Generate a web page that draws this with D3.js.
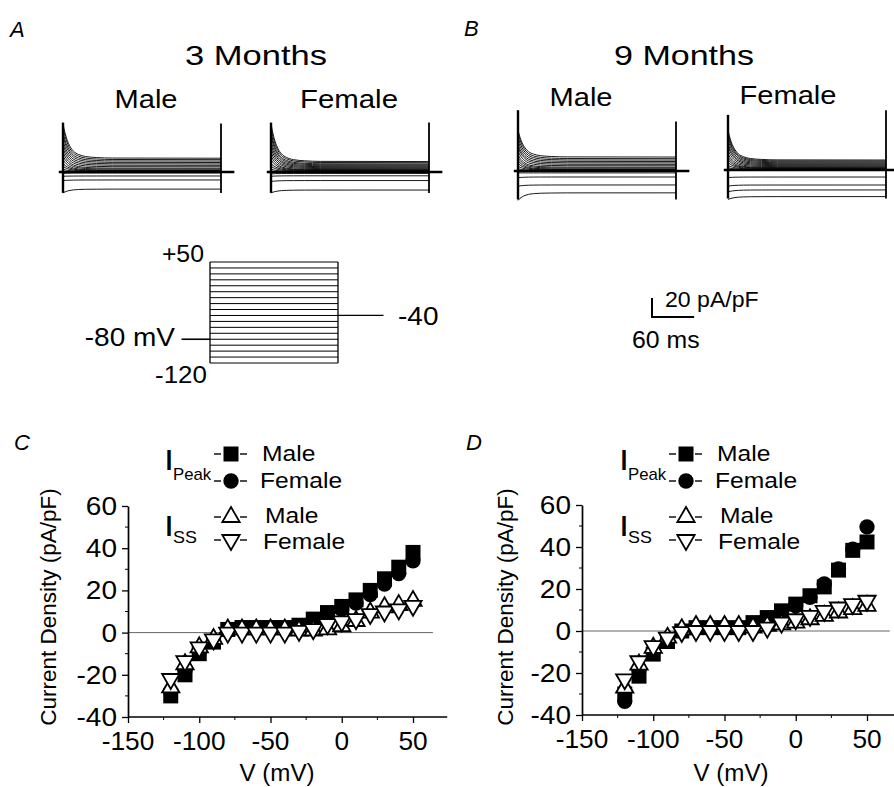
<!DOCTYPE html>
<html>
<head>
<meta charset="utf-8">
<script src="https://cdn.jsdelivr.net/npm/d3@7"></script>
<style>
  html, body { margin: 0; padding: 0; background: #fff; }
  svg { display: block; font-family: "Liberation Sans", Arial, Helvetica, sans-serif; }
</style>
</head>
<body>
<svg id="fig" width="894" height="787"></svg>
<script>
// ---------- Test potentials (mV) ----------
const voltages = [-120, -110, -100, -90, -80, -70, -60, -50, -40, -30, -20, -10, 0, 10, 20, 30, 40, 50];

// ---------- I–V data, 3 months (pA/pF) ----------
const peakMale3   = [-30, -20, -10, -4.5, 1.5, 2.4, 2.4, 2.4, 2.4, 3.5, 6.4, 9.5, 12.4, 15.5, 20, 25.5, 31, 38];
const peakFemale3 = [-28, -18, -9, -4, 1, 2, 2, 2, 2, 3, 5.5, 8.5, 11, 14, 18, 23, 28, 34];
const ssMale3     = [-26, -15, -7, -3, 1.5, 1.5, 1.5, 1.5, 1.5, 1, 1, 1.5, 3, 5.5, 9.5, 12, 13, 15];
const ssFemale3   = [-22, -13.5, -7, -3.2, 0, 0, 0, 0, 0, 0.8, 1.6, 4, 5.3, 6.4, 8.8, 10, 11, 12.7];

// ---------- I–V data, 9 months (pA/pF) ----------
const peakMale9   = [-30, -21.5, -11, -5, 0, 1.6, 1.6, 1.6, 1.6, 4, 6.4, 9.6, 12.8, 16.8, 21, 29, 38.4, 42.4];
const peakFemale9 = [-33.5, -18.5, -9.6, -4.5, 0, 1.2, 1.2, 1.2, 1.2, 3.5, 6, 8.8, 12, 16, 22.4, 29.6, 39, 49.6];
const ssMale9     = [-27, -16, -8, -3.2, 0.8, 2.4, 2.4, 2.4, 2.4, 1.6, 2.4, 3.2, 4, 5.6, 7.2, 8.8, 10.4, 12];
const ssFemale9   = [-23, -14.4, -7.2, -3.2, -0.5, 0, 0, 0, 0, 0, 1.6, 4, 5.6, 7.2, 9.6, 11.2, 12.8, 14.4];

// ---------- Representative current traces: level at pulse onset and at pulse end (pA/pF) ----------
const traceStartA_M = [-22, -9, -4.5, -1.5, 0, 3, 6, 9, 13, 17, 21, 25, 29, 33, 38, 42, 47, 51];
const traceEndA_M   = [-18, -8.4, -4.2, -1, 0, 0.5, 1, 1.5, 2, 3, 4, 5.5, 7, 8.5, 10, 11.5, 13, 14.5];
const traceStartA_F = [-22, -10, -4.5, -2, 0, 3, 6, 9, 13, 17, 21, 25, 29, 33, 38, 42, 47, 51];
const traceEndA_F   = [-19, -9, -4, -1.5, 0, 0.5, 1, 1.5, 2, 2.5, 3.5, 4.5, 5.5, 6.5, 7.5, 8.5, 9.8, 11];
const traceStartB_M = [-31, -16, -7, -2, 0, 2.5, 5, 8, 11, 14, 17, 21, 25, 28, 32, 36, 40, 43];
const traceEndB_M   = [-23, -14.7, -6.3, -2, 0, 0.5, 1, 1.5, 2, 3, 4, 5.5, 7, 8.5, 10, 11.5, 13, 14.7];
const traceStartB_F = [-31, -23, -17, -8, 0, 2.5, 5, 8, 11, 14, 17, 21, 25, 28, 32, 36, 39, 42];
const traceEndB_F   = [-28, -21, -15.8, -7.4, 0, 0.5, 1, 1.5, 2, 2.5, 3.5, 4.5, 5.5, 6.5, 7.5, 8.5, 9.5, 10.5];

// Capacitive artefacts at pulse on / off: [bottom, top] in pA/pF
const artOnA_M = [-22, 52],  artOffA_M = [-22, 51];
const artOnA_F = [-22, 52],  artOffA_F = [-22, 52];
const artOnB_M = [-30, 64],  artOffB_M = [-30, 52];
const artOnB_F = [-30, 58],  artOffB_F = [-30, 63];

// Shared inactivation time course (fraction of decaying component remaining vs ms)
const decayTime = [0, 3, 6, 10, 15, 22, 32, 48, 70, 225];
const decayFrac = [1, 0.72, 0.52, 0.34, 0.2, 0.11, 0.05, 0.02, 0.005, 0];

const pulseMs = 225;          // test pulse duration
const holdingMV = -80, tailMV = -40;

// ---------- Axis ticks ----------
const xTicks = [-150, -100, -50, 0, 50];
const xMinor = [-125, -75, -25, 25];
const yTicks = [-40, -20, 0, 20, 40, 60];
const yMinor = [-30, -10, 10, 30, 50];

const svg = d3.select("#fig");

// text helper; sx stretches glyphs horizontally
function txt(g, s, x, y, o = {}) {
  const sx = o.sx === undefined ? 1.1 : o.sx;
  const t = g.append("text")
    .attr("transform", `translate(${x},${y})` + (o.rot ? ` rotate(${o.rot})` : ` scale(${sx},1)`))
    .attr("font-size", o.size || 24)
    .attr("text-anchor", o.anchor || "start")
    .attr("fill", "#000")
    .text(s);
  if (o.italic) t.attr("font-style", "italic");
  if (o.len) t.attr("textLength", o.len / sx).attr("lengthAdjust", "spacingAndGlyphs");
  return t;
}

// ---------- Panel letters & titles ----------
txt(svg, "A", 10, 37, {size: 22, italic: true, sx: 1});
txt(svg, "B", 464, 36, {size: 22, italic: true, sx: 1});
txt(svg, "C", 14, 450, {size: 22, italic: true, sx: 1});
txt(svg, "D", 466, 450, {size: 22, italic: true, sx: 1});

txt(svg, "3 Months", 256, 65, {size: 28, anchor: "middle", sx: 1, len: 142});
txt(svg, "9 Months", 684, 65, {size: 28, anchor: "middle", sx: 1, len: 140});
txt(svg, "Male", 146, 108, {size: 25, anchor: "middle", sx: 1, len: 63});
txt(svg, "Female", 349, 108, {size: 25, anchor: "middle", sx: 1, len: 98});
txt(svg, "Male", 581, 106, {size: 25, anchor: "middle", sx: 1, len: 63});
txt(svg, "Female", 788, 104, {size: 25, anchor: "middle", sx: 1, len: 97});

// ---------- Current traces ----------
const cells = [
  {x0: 63,  base: 172, start: traceStartA_M, end: traceEndA_M, on: artOnA_M, off: artOffA_M},
  {x0: 271, base: 172, start: traceStartA_F, end: traceEndA_F, on: artOnA_F, off: artOffA_F},
  {x0: 518, base: 171, start: traceStartB_M, end: traceEndB_M, on: artOnB_M, off: artOffB_M},
  {x0: 728, base: 170, start: traceStartB_F, end: traceEndB_F, on: artOnB_F, off: artOffB_F}
];
const traceWidth = 158;       // px for one pulse
const pxPer20 = 19;           // px for 20 pA/pF

let refScales = null;
cells.forEach((c, ci) => {
  const t = d3.scaleLinear().domain([0, pulseMs]).range([c.x0, c.x0 + traceWidth]);
  const y = d3.scaleLinear().domain([0, 20]).range([c.base, c.base - pxPer20]);
  if (ci === 0) refScales = {t, y};
  const g = svg.append("g");
  const line = d3.line().x(d => t(d[0])).y(d => y(d[1])).curve(d3.curveMonotoneX);

  voltages.forEach((v, i) => {
    const pk = c.start[i], ss = c.end[i];
    const pts = decayTime.map((tm, k) => [tm, ss + (pk - ss) * decayFrac[k]]);
    g.append("path").attr("d", line(pts))
      .attr("fill", "none").attr("stroke", "#000").attr("stroke-width", 0.9);
  });
  // holding level before and after the pulse
  g.append("line")
    .attr("x1", t(-6)).attr("x2", t(pulseMs + 19))
    .attr("y1", y(0)).attr("y2", y(0))
    .attr("stroke", "#000").attr("stroke-width", 2.6);
  // capacitive artefacts
  g.append("line").attr("x1", t(0)).attr("x2", t(0))
    .attr("y1", y(c.on[0])).attr("y2", y(c.on[1]))
    .attr("stroke", "#000").attr("stroke-width", 2.4);
  g.append("line").attr("x1", t(pulseMs)).attr("x2", t(pulseMs))
    .attr("y1", y(c.off[0])).attr("y2", y(c.off[1]))
    .attr("stroke", "#000").attr("stroke-width", 1.8);
});

// ---------- Scale bar ----------
{
  const {t, y} = refScales;
  const bx = 652, by = 317;
  const w = t(60) - t(0), h = y(0) - y(20);
  svg.append("path")
    .attr("d", `M${bx},${by - h}V${by}H${bx + w}`)
    .attr("fill", "none").attr("stroke", "#000").attr("stroke-width", 2);
  txt(svg, "20 pA/pF", 665, 307, {size: 22, sx: 1.05});
  txt(svg, "60 ms", 632, 348, {size: 23, sx: 1.08});
}

// ---------- Voltage protocol ----------
{
  const pt = d3.scaleLinear().domain([0, pulseMs]).range([210, 338]);
  const pv = d3.scaleLinear().domain([-120, 50]).range([363, 262]);
  const g = svg.append("g").attr("stroke", "#000").attr("fill", "none");
  voltages.forEach(v => {
    g.append("line").attr("x1", pt(0)).attr("x2", pt(pulseMs))
      .attr("y1", pv(v)).attr("y2", pv(v)).attr("stroke-width", 1);
  });
  g.append("line").attr("x1", pt(0)).attr("x2", pt(0))
    .attr("y1", pv(-120)).attr("y2", pv(50)).attr("stroke-width", 1.3);
  g.append("line").attr("x1", pt(pulseMs)).attr("x2", pt(pulseMs))
    .attr("y1", pv(-120)).attr("y2", pv(50)).attr("stroke-width", 1.3);
  g.append("line").attr("x1", pt(-50)).attr("x2", pt(0))
    .attr("y1", pv(holdingMV)).attr("y2", pv(holdingMV)).attr("stroke-width", 1.6);
  g.append("line").attr("x1", pt(pulseMs)).attr("x2", pt(pulseMs + 80))
    .attr("y1", pv(tailMV)).attr("y2", pv(tailMV)).attr("stroke-width", 1.2);

  txt(svg, "+50", 204, 262, {size: 23, anchor: "end", sx: 1.08});
  txt(svg, "-80 mV", 175, 346, {size: 25, anchor: "end", sx: 1.12});
  txt(svg, "-40", 398, 325, {size: 25, anchor: "start", sx: 1.12});
  txt(svg, "-120", 181, 383, {size: 24, anchor: "middle", sx: 1.08});
}

// ---------- Symbols ----------
const symSq  = d3.symbol(d3.symbolSquare, 225)();
const symCi  = d3.symbol(d3.symbolCircle, 185)();
const symTri = d3.symbol(d3.symbolTriangle, 130)();

function marker(g, kind, x, y) {
  const p = g.append("path").attr("transform", `translate(${x},${y})` + (kind === "down" ? " rotate(180)" : ""));
  if (kind === "sq") p.attr("d", symSq).attr("fill", "#000");
  else if (kind === "ci") p.attr("d", symCi).attr("fill", "#000");
  else p.attr("d", symTri).attr("fill", "#fff").attr("stroke", "#000").attr("stroke-width", 1.8);
  return p;
}

// ---------- I–V panels ----------
function ivPanel(cfg) {
  const x = d3.scaleLinear().domain([-150, 50]).range(cfg.xr);
  const y = d3.scaleLinear().domain([-40, 60]).range(cfg.yr);
  const g = svg.append("g");

  // zero-current reference
  g.append("line").attr("x1", x(-150)).attr("x2", x(cfg.zeroEnd))
    .attr("y1", y(0)).attr("y2", y(0)).attr("stroke", "#666").attr("stroke-width", 1);

  // axes (ticks only; labels drawn separately)
  const ax = g.append("g").attr("transform", `translate(0,${y(-40)})`)
    .call(d3.axisBottom(x).tickValues(xTicks).tickSize(6).tickFormat("").tickSizeOuter(0));
  ax.select(".domain").attr("d", `M${x(-150)},0H${x(cfg.xEnd)}`);
  xMinor.forEach(v => ax.append("line").attr("x1", x(v)).attr("x2", x(v)).attr("y1", 0).attr("y2", 3).attr("stroke", "#000"));
  const ay = g.append("g").attr("transform", `translate(${x(-150)},0)`)
    .call(d3.axisLeft(y).tickValues(yTicks).tickSize(6).tickFormat("").tickSizeOuter(0));
  yMinor.forEach(v => ay.append("line").attr("x1", 0).attr("x2", -3).attr("y1", y(v)).attr("y2", y(v)).attr("stroke", "#000"));
  g.selectAll(".domain").attr("stroke-width", 1.7);
  g.selectAll(".tick line").attr("stroke-width", 1.3);

  xTicks.forEach(v => txt(g, String(v), x(v), cfg.xLabY, {size: 25, anchor: "middle", sx: 1.05}));
  yTicks.forEach(v => txt(g, String(v), x(-150) - 11, y(v) + 9, {size: 25, anchor: "end", sx: 1.12}));

  txt(g, "V (mV)", cfg.xTitleX, 781, {size: 23, anchor: "middle", sx: 1.05});
  txt(g, "Current Density (pA/pF)", cfg.yTitleX, 607, {size: 22.5, anchor: "middle", rot: -90});

  // data markers
  const series = [
    {vals: cfg.pM, kind: "sq"},
    {vals: cfg.pF, kind: "ci"},
    {vals: cfg.sM, kind: "up"},
    {vals: cfg.sF, kind: "down"}
  ];
  series.forEach(s => {
    const sg = g.append("g");
    voltages.forEach((v, i) => marker(sg, s.kind, x(v), y(s.vals[i])));
  });

  // legend
  const L = cfg.legX;
  const lg = svg.append("g");
  txt(lg, "I", L, 470, {size: 30, sx: 1.2});
  txt(lg, "Peak", L + 9, 480, {size: 16, sx: 1.05});
  txt(lg, "I", L, 536, {size: 30, sx: 1.2});
  txt(lg, "SS", L + 9, 543, {size: 17, sx: 1.05});
  const rows = [
    {kind: "sq",   my: 454, ty: 461, label: "Male",   tx: 98},
    {kind: "ci",   my: 481, ty: 488, label: "Female", tx: 96},
    {kind: "up",   my: 517, ty: 523, label: "Male",   tx: 101},
    {kind: "down", my: 540, ty: 549, label: "Female", tx: 99}
  ];
  rows.forEach(r => {
    const cx = L + 67;
    lg.append("line").attr("x1", cx - 17).attr("x2", cx - 10).attr("y1", r.my).attr("y2", r.my)
      .attr("stroke", "#000").attr("stroke-width", 1.4);
    lg.append("line").attr("x1", cx + 9).attr("x2", cx + 16).attr("y1", r.my).attr("y2", r.my)
      .attr("stroke", "#000").attr("stroke-width", 1.4);
    marker(lg, r.kind, cx, r.my);
    txt(lg, r.label, L + r.tx, r.ty, {size: 22, sx: 1.12});
  });
}

ivPanel({xr: [128, 413], yr: [717, 506], xEnd: 74, zeroEnd: 64, xLabY: 750,
         xTitleX: 277, yTitleX: 56, legX: 164,
         pM: peakMale3, pF: peakFemale3, sM: ssMale3, sF: ssFemale3});
ivPanel({xr: [582, 867], yr: [715, 505], xEnd: 70, zeroEnd: 66, xLabY: 748,
         xTitleX: 731, yTitleX: 513, legX: 619,
         pM: peakMale9, pF: peakFemale9, sM: ssMale9, sF: ssFemale9});
</script>
</body>
</html>
